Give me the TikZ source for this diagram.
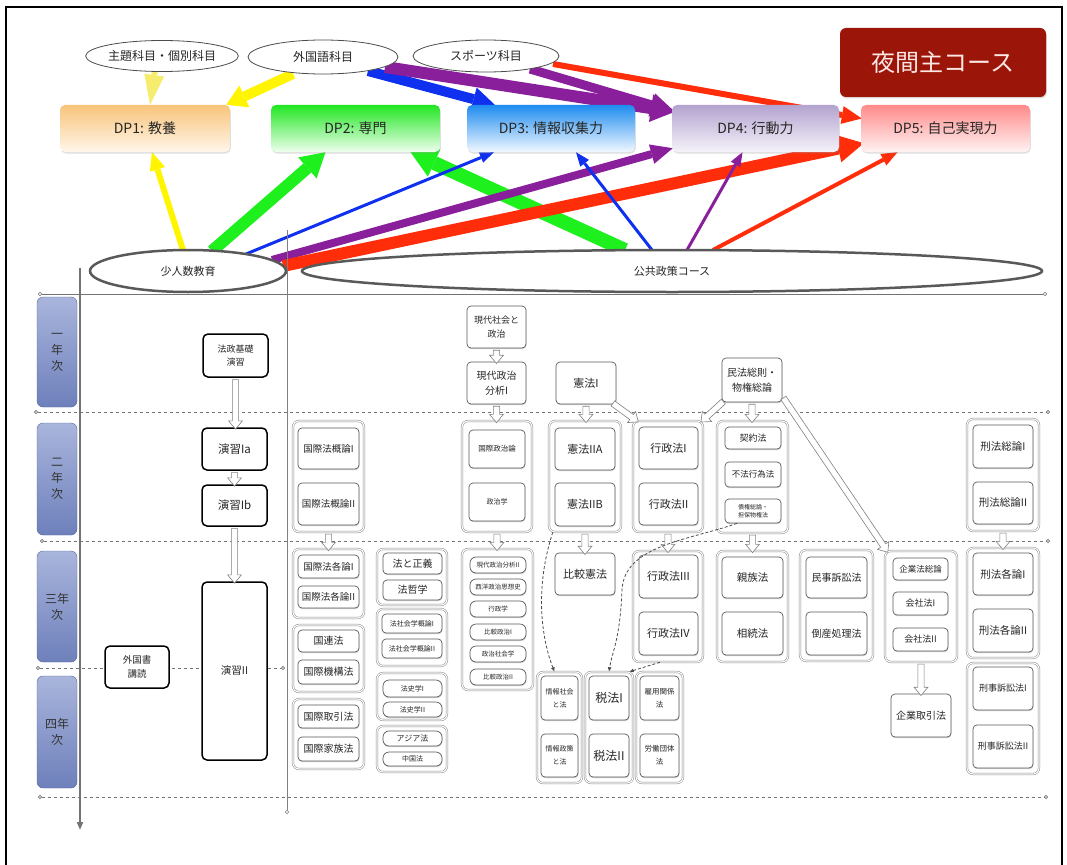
\documentclass[tikz,border=0pt]{standalone}
\usepackage{fontspec}
\setmainfont{Noto Sans CJK JP}
\usetikzlibrary{arrows.meta,shapes.geometric,shapes.arrows,shadows,calc}

\newcommand\fs[2]{\fontsize{#1}{#2}\selectfont}
% box from (x1,y1) to (x2,y2) in pixel-like units
\newcommand\bx[7][]{\node[#1, minimum width={(#4-#2)*1pt}, minimum height={(#5-#3)*1pt}] (#6) at ({(#2+#4)/2},{(#3+#5)/2}) {#7};}
% hollow block arrow between two points
\newcommand\blk[2]{\path let \p1=#1, \p2=#2, \n1={veclen(\x2-\x1,\y2-\y1)}, \n2={atan2(\y2-\y1,\x2-\x1)} in node[blkarrow, minimum height=\n1, rotate=\n2] at ($(\p1)!0.5!(\p2)$) {};}

\definecolor{apale}{HTML}{F6EC6E}
\definecolor{ayellow}{HTML}{FFF500}
\definecolor{agreen}{HTML}{1EF01E}
\definecolor{ablue}{HTML}{1030F0}
\definecolor{apurple}{HTML}{8A1F9C}
\definecolor{ared}{HTML}{FF2D0A}
\definecolor{dpOa}{HTML}{F8C47A}\definecolor{dpOb}{HTML}{FFF6EA}
\definecolor{dpGa}{HTML}{22E622}\definecolor{dpGb}{HTML}{EEFFEE}
\definecolor{dpBa}{HTML}{1E8CF0}\definecolor{dpBb}{HTML}{F2F8FF}
\definecolor{dpPa}{HTML}{B3A3CF}\definecolor{dpPb}{HTML}{F6F3FA}
\definecolor{dpRa}{HTML}{FF8A8A}\definecolor{dpRb}{HTML}{FFF3F3}
\definecolor{yrtop}{HTML}{A9B5DC}\definecolor{yrbot}{HTML}{6E80BB}
\definecolor{nightred}{HTML}{9B1609}\definecolor{nightfg}{HTML}{FDE7E4}

\pgfdeclarelayer{bg}
\pgfsetlayers{bg,main}

\tikzset{
  course/.style={draw=black!65, line width=0.7pt, rounded corners=4pt, fill=white, inner sep=0.5pt, align=center, text=black!85,
    drop shadow={shadow xshift=0.4pt, shadow yshift=-1.2pt, opacity=0.35}},
  pill/.style={course, rounded corners=6pt},
  grp/.style={draw=black!45, line width=0.5pt, double=white, double distance=1.1pt, rounded corners=6pt, fill=white},
  keybox/.style={draw=black, line width=1.5pt, rounded corners=5pt, fill=white, align=center, inner sep=1pt, text=black!85},
  yearbox/.style={rounded corners=6pt, top color=yrtop, bottom color=yrbot, draw=yrbot!80!black, line width=0.4pt,
    align=center, text=black!80, font=\fs{12}{16}},
  topell/.style={ellipse, draw=black!70, line width=0.8pt, fill=white, inner sep=0pt, font=\fs{12}{14}, text=black!85},
  botell/.style={ellipse, draw=black!65, line width=2.5pt, fill=white, inner sep=0pt, font=\fs{11}{13}, text=black!85},
  dpbox/.style={rounded corners=5pt, inner sep=0pt, font=\fs{14}{16}, text=black!85,
    drop shadow={shadow xshift=0.8pt, shadow yshift=-1.5pt, opacity=0.25}},
  fat/.style n args={3}{line width=#1pt, -{Triangle[length=#2pt, width=#3pt, line width=0pt]}},
  blkarrow/.style={single arrow, draw=black!50, fill=white, line width=0.6pt, inner xsep=0pt, inner ysep=2.8pt,
    single arrow head extend=3.8pt, single arrow tip angle=80, minimum width=0pt},
  sep/.style={black!55, line width=0.7pt, dash pattern=on 3.5pt off 2.5pt,
    {Circle[open,length=4pt,width=4pt]}-{Circle[open,length=4pt,width=4pt]}},
  dasharrow/.style={black!70, line width=0.8pt, dash pattern=on 3pt off 2pt, -{Latex[length=4.5pt,width=4pt]}},
}

\begin{document}
\begin{tikzpicture}[x=1pt,y=-1pt]
\useasboundingbox (0,0) rectangle (1067,864);

% outer frame
\draw[line width=1.2pt] (6,880) -- (6,7) -- (1062,7) -- (1062,880);

% grid lines
\draw[black!55, line width=0.6pt, {Circle[open,length=4pt,width=4pt]}-{Circle[open,length=4pt,width=4pt]}] (38,294) -- (1047,294);
\draw[sep] (34,412) -- (1050,412);
\draw[sep] (40,541) -- (1050,541);
\draw[sep] (36,668) -- (285,668);
\draw[sep] (38,797) -- (1048,797);
\draw[black!55, line width=1.8pt, -{Triangle[length=8pt,width=6pt]}] (80,268) -- (80,830);
\draw[black!50, line width=0.6pt, -{Circle[open,length=4pt,width=4pt]}] (287,230) -- (287,814);

% source ellipses
\node[topell, minimum width=150pt, minimum height=31pt] (ashu) at (162,56) {主題科目・個別科目};
\node[topell, minimum width=150pt, minimum height=34pt] (agai) at (323,57) {外国語科目};
\node[topell, minimum width=146pt, minimum height=32pt] (aspo) at (486,56) {スポーツ科目};
\node[botell, minimum width=196pt, minimum height=42pt] (shojin) at (188,271) {少人数教育};
\node[botell, minimum width=740pt, minimum height=42pt] (kokyo) at (672,271) {公共政策コース};

% diploma policy boxes
\bx[dpbox, top color=dpOa, bottom color=dpOb]{60}{105}{230}{152}{dp1}{DP1: 教養}
\bx[dpbox, top color=dpGa, bottom color=dpGb]{271}{105}{440}{152}{dp2}{DP2: 専門}
\bx[dpbox, top color=dpBa, bottom color=dpBb]{467}{105}{635}{152}{dp3}{DP3: 情報収集力}
\bx[dpbox, top color=dpPa, bottom color=dpPb]{672}{105}{839}{152}{dp4}{DP4: 行動力}
\bx[dpbox, top color=dpRa, bottom color=dpRb]{861}{105}{1030}{152}{dp5}{DP5: 自己実現力}
\bx[fill=nightred, rounded corners=6pt, text=nightfg, font=\fs{24}{28}, inner sep=0pt,
    drop shadow={shadow xshift=0.8pt, shadow yshift=-1.5pt, opacity=0.3}]{840}{28}{1046}{97}{night}{夜間主コース}

% contribution arrows
\begin{pgfonlayer}{bg}
\draw[apale, fat={6}{30}{20}] ([shift={(-7,14)}]ashu.center) -- ([shift={(5,0)}]dp1.north);
\draw[ayellow, fat={10}{20}{24}] ([shift={(-30,17)}]agai.center) -- ([shift={(-4,0)}]dp1.north east);
\draw[ablue, fat={10}{22}{24}] ([shift={(45,14)}]agai.center) -- ([shift={(28,0)}]dp3.north west);
\draw[apurple, fat={12}{24}{28}] ([shift={(62,10)}]agai.center) -- ([shift={(3,7)}]dp4.north west);
\draw[apurple, fat={9}{24}{24}] ([shift={(44,13)}]aspo.center) -- ([shift={(3,7)}]dp4.north west);
\draw[ared, fat={6}{20}{18}] ([shift={(67,8)}]aspo.center) -- ([shift={(1,-10)}]dp5.west);

\draw[agreen, fat={14}{26}{30}] ([shift={(-47,-21)}]kokyo.center) -- ([shift={(55,0)}]dp2.south);
\draw[ayellow, fat={6}{18}{16}] ([shift={(-5,-21)}]shojin.center) -- ([shift={(7,0)}]dp1.south);
\draw[agreen, fat={12}{24}{28}] ([shift={(24,-20)}]shojin.center) -- ([shift={(-30,0)}]dp2.south);
\draw[ablue, fat={3}{14}{11}] ([shift={(58,-17)}]shojin.center) -- ([shift={(-57,0)}]dp3.south);
\draw[apurple, fat={8}{22}{20}] ([shift={(84,-11)}]shojin.center) -- ([shift={(1,-4)}]dp4.south west);
\draw[ared, fat={12}{26}{28}] ([shift={(95,-5)}]shojin.center) -- ([shift={(3,-9)}]dp5.south west);
\draw[ablue, fat={3}{14}{11}] ([shift={(-20,-21)}]kokyo.center) -- ([shift={(25,0)}]dp3.south);
\draw[apurple, fat={3}{14}{11}] ([shift={(15,-21)}]kokyo.center) -- ([shift={(-13,0)}]dp4.south);
\draw[ared, fat={4}{16}{13}] ([shift={(41,-21)}]kokyo.center) -- ([shift={(-48,0)}]dp5.south);
\end{pgfonlayer}

% year labels
\bx[yearbox]{37}{297}{77}{407}{yr1}{一\\年\\次}
\bx[yearbox]{37}{423}{77}{535}{yr2}{二\\年\\次}
\bx[yearbox]{37}{551}{77}{662}{yr3}{三年\\次}
\bx[yearbox]{37}{676}{77}{788}{yr4}{四年\\次}

% seminar column
\bx[keybox, font=\fs{9}{13}]{203}{334}{268}{377}{hk}{法政基礎\\演習}
\bx[keybox, font=\fs{11.5}{13}]{202}{428}{267}{470}{e1a}{演習Ia}
\bx[keybox, font=\fs{11.5}{13}]{202}{485}{267}{526}{e1b}{演習Ib}
\bx[keybox, font=\fs{10.5}{13}]{202}{582}{267}{760}{e2}{演習II}
\bx[keybox, font=\fs{9.5}{14}]{105}{646}{169}{688}{gsd}{外国書\\講読}

% international law
\bx[grp]{293}{421}{364}{532}{gk}{}
\bx[course, font=\fs{9.5}{12}]{298}{428}{359}{469}{kg1}{国際法概論I}
\bx[course, font=\fs{9.5}{12}]{298}{483}{359}{525}{kg2}{国際法概論II}
\bx[grp]{293}{549}{364}{618}{gkk}{}
\bx[course, font=\fs{9.5}{12}]{298}{555}{359}{578}{kk1}{国際法各論I}
\bx[course, font=\fs{9.5}{12}]{298}{586}{359}{608}{kk2}{国際法各論II}
\bx[grp]{293}{625}{364}{692}{gun}{}
\bx[course, font=\fs{10}{12}]{298}{630}{359}{652}{un}{国連法}
\bx[course, font=\fs{10}{12}]{298}{660}{359}{684}{kikou}{国際機構法}
\bx[grp]{293}{699}{364}{769}{gtr}{}
\bx[course, font=\fs{10}{12}]{298}{705}{359}{728}{ktr}{国際取引法}
\bx[course, font=\fs{10}{12}]{298}{737}{359}{761}{kfm}{国際家族法}

% legal philosophy and history
\bx[grp]{377}{549}{447}{605}{gph}{}
\bx[course, font=\fs{10}{12}]{383}{553}{442}{574}{hs}{法と正義}
\bx[course, font=\fs{10}{12}]{383}{580}{442}{600}{ht}{法哲学}
\bx[grp]{377}{609}{447}{666}{gss}{}
\bx[course, font=\fs{7}{9}]{382}{614}{442}{633}{ss1}{法社会学概論I}
\bx[course, font=\fs{7}{9}]{382}{639}{442}{658}{ss2}{法社会学概論II}
\bx[grp]{377}{673}{447}{720}{ghi}{}
\bx[pill, font=\fs{7}{9}]{383}{680}{442}{697}{hi1}{法史学I}
\bx[pill, font=\fs{7}{9}]{383}{702}{442}{717}{hi2}{法史学II}
\bx[grp]{377}{726}{447}{772}{gas}{}
\bx[pill, font=\fs{8}{9}]{383}{731}{442}{746}{asia}{アジア法}
\bx[pill, font=\fs{7}{9}]{383}{752}{442}{766}{cn}{中国法}

% political science
\bx[course, font=\fs{9}{14}]{467}{306}{526}{348}{gs1}{現代社会と\\政治}
\bx[course, font=\fs{10}{15}]{467}{362}{526}{404}{gb1}{現代政治\\分析I}
\bx[grp]{462}{421}{532}{532}{gpol}{}
\bx[course, font=\fs{7.5}{9}]{469}{430}{525}{468}{kp}{国際政治論}
\bx[course, font=\fs{7}{9}]{469}{483}{525}{521}{sjg}{政治学}
\bx[grp]{462}{549}{533}{690}{gpol2}{}
\bx[pill, font=\fs{6.5}{8}]{470}{557}{526}{573}{gb2}{現代政治分析II}
\bx[pill, font=\fs{6.5}{8}]{470}{579}{526}{595}{sys}{西洋政治思想史}
\bx[pill, font=\fs{6.5}{8}]{470}{601}{526}{617}{gyg}{行政学}
\bx[pill, font=\fs{6.5}{8}]{470}{624}{526}{640}{hs1}{比較政治I}
\bx[pill, font=\fs{6.5}{8}]{470}{646}{526}{662}{sks}{政治社会学}
\bx[pill, font=\fs{6.5}{8}]{470}{669}{526}{685}{hs2}{比較政治II}

% constitutional law
\bx[course, font=\fs{11}{13}]{556}{362}{616}{404}{k1}{憲法I}
\bx[grp]{549}{421}{621}{532}{gk2}{}
\bx[course, font=\fs{11}{13}]{555}{428}{615}{470}{k2a}{憲法IIA}
\bx[course, font=\fs{11}{13}]{555}{483}{615}{526}{k2b}{憲法IIB}
\bx[course, font=\fs{11}{13}]{555}{553}{615}{595}{hkk}{比較憲法}

% year-four electives
\bx[grp]{537}{672}{582}{783}{gjo}{}
\bx[course, font=\fs{7}{13}]{541}{676}{578}{720}{jo1}{情報社会\\と法}
\bx[course, font=\fs{7}{13}]{541}{734}{578}{777}{jo2}{情報政策\\と法}
\bx[grp]{585}{672}{633}{783}{gtax}{}
\bx[course, font=\fs{12}{14}]{589}{676}{629}{720}{tx1}{税法I}
\bx[course, font=\fs{12}{14}]{589}{734}{629}{777}{tx2}{税法II}
\bx[grp]{636}{672}{683}{783}{glab}{}
\bx[course, font=\fs{7.5}{13}]{640}{676}{679}{720}{lb1}{雇用関係\\法}
\bx[course, font=\fs{7.5}{13}]{640}{734}{679}{777}{lb2}{労働団体\\法}

% administrative law
\bx[grp]{633}{421}{703}{532}{ggy}{}
\bx[course, font=\fs{11}{13}]{639}{427}{698}{469}{gy1}{行政法I}
\bx[course, font=\fs{11}{13}]{639}{483}{698}{525}{gy2}{行政法II}
\bx[grp]{633}{551}{703}{662}{ggy2}{}
\bx[course, font=\fs{11}{13}]{639}{555}{698}{598}{gy3}{行政法III}
\bx[course, font=\fs{11}{13}]{639}{612}{698}{655}{gy4}{行政法IV}

% civil law
\bx[course, font=\fs{10}{15}]{722}{358}{782}{402}{mp}{民法総則・\\物権総論}
\bx[grp]{717}{421}{788}{533}{gmp}{}
\bx[course, font=\fs{9}{11}]{725}{427}{781}{449}{kyk}{契約法}
\bx[course, font=\fs{8.5}{10}]{725}{462}{781}{487}{fhk}{不法行為法}
\bx[course, font=\fs{6}{8}]{725}{499}{781}{523}{skn}{債権総論・\\担保物権法}
\bx[grp]{717}{551}{788}{662}{gsz}{}
\bx[course, font=\fs{10.5}{13}]{722}{557}{783}{598}{sz1}{親族法}
\bx[course, font=\fs{10.5}{13}]{722}{612}{783}{655}{sz2}{相続法}

% civil procedure
\bx[grp]{800}{550}{873}{661}{gms}{}
\bx[course, font=\fs{10}{13}]{806}{557}{867}{598}{ms}{民事訴訟法}
\bx[course, font=\fs{10}{13}]{806}{612}{867}{655}{tsh}{倒産処理法}

% corporate law
\bx[grp]{885}{551}{957}{662}{gkg}{}
\bx[course, font=\fs{8.5}{10}]{893}{558}{948}{580}{kgs}{企業法総論}
\bx[course, font=\fs{9}{11}]{893}{592}{948}{615}{ksa}{会社法I}
\bx[course, font=\fs{9}{11}]{893}{628}{948}{651}{ksb}{会社法II}
\bx[course, font=\fs{10}{13}]{891}{694}{951}{737}{kt2}{企業取引法}

% criminal law
\bx[grp]{967}{419}{1039}{531}{gkh}{}
\bx[course, font=\fs{10.5}{13}]{973}{425}{1033}{468}{kh1}{刑法総論I}
\bx[course, font=\fs{10.5}{13}]{973}{482}{1033}{524}{kh2}{刑法総論II}
\bx[grp]{967}{548}{1039}{658}{gkh2}{}
\bx[course, font=\fs{10.5}{13}]{973}{553}{1033}{595}{kka}{刑法各論I}
\bx[course, font=\fs{10.5}{13}]{973}{609}{1033}{652}{kkb}{刑法各論II}
\bx[grp]{967}{663}{1039}{774}{gks}{}
\bx[course, font=\fs{9}{12}]{973}{667}{1033}{710}{ksp1}{刑事訴訟法I}
\bx[course, font=\fs{9}{12}]{973}{725}{1033}{768}{ksp2}{刑事訴訟法II}

% prerequisite block arrows
\blk{(hk.south)}{(hk.south |- e1a.north)}
\blk{(e1a.south)}{(e1a.south |- e1b.north)}
\blk{(e1b.south)}{(e1b.south |- e2.north)}
\blk{(gk.south)}{(gk.south |- gkk.north)}
\blk{(gs1.south)}{(gs1.south |- gb1.north)}
\blk{(gb1.south)}{(gb1.south |- gpol.north)}
\blk{(gpol.south)}{(gpol.south |- gpol2.north)}
\blk{(k1.south)}{(k1.south |- gk2.north)}
\blk{([shift={(-5,-2)}]k1.south east)}{([shift={(4,0)}]ggy.north west)}
\blk{(gk2.south)}{(gk2.south |- hkk.north)}
\blk{([shift={(3,-2)}]mp.south west)}{([shift={(-1,0)}]ggy.north east)}
\blk{(mp.south)}{(mp.south |- gmp.north)}
\blk{([shift={(0,-6)}]mp.south east)}{([shift={(2,0)}]gkg.north west)}
\blk{(ggy.south)}{(ggy.south |- ggy2.north)}
\blk{(gmp.south)}{(gmp.south |- gsz.north)}
\blk{(gkg.south)}{(gkg.south |- kt2.north)}
\blk{(gkh.south)}{(gkh.south |- gkh2.north)}

% related-course links
\draw[dasharrow] ([shift={(4,0)}]gk2.south west) .. controls (534,590) and (542,640) .. ([shift={(-5,0)}]gjo.north);
\draw[dasharrow] ([shift={(-16,0)}]skn.south) .. controls (690,540) and (624,545) .. (622,590)
   .. controls (620,640) and (612,652) .. (gtax.north);
\draw[dasharrow] ([shift={(-8,0)}]ggy2.south) -- ([shift={(-4,0)}]gtax.north east);

\end{tikzpicture}
\end{document}
